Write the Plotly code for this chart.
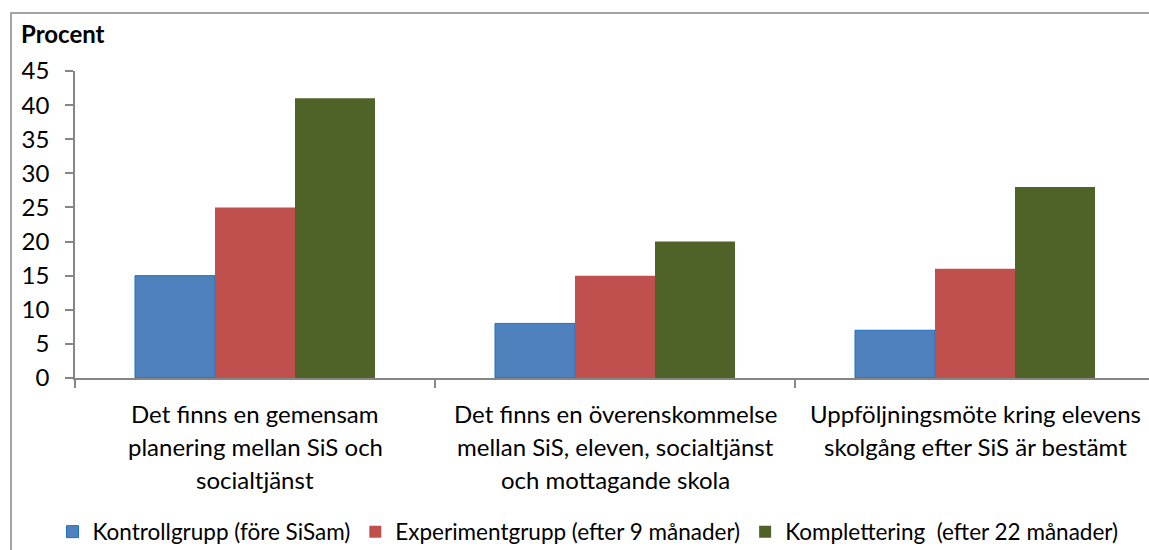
import plotly.graph_objects as go

categories = [0, 1, 2]
category_lines = [
    ["Det finns en gemensam", "planering mellan SiS och", "socialtjänst"],
    ["Det finns en överenskommelse", "mellan SiS, eleven, socialtjänst", "och mottagande skola"],
    ["Uppföljningsmöte kring elevens", "skolgång efter SiS är bestämt"],
]
series_names = [
    "Kontrollgrupp (före SiSam)",
    "Experimentgrupp (efter 9 månader)",
    "Komplettering  (efter 22 månader)",
]
kontroll = [15, 8, 7]
experiment = [25, 15, 16]
komplettering = [41, 20, 28]
y_ticks = [0, 5, 10, 15, 20, 25, 30, 35, 40, 45]

FONT = "Lato"
GRAY = "#868686"

W, H = 1149, 550
plot_left, plot_right = 75, 1149
plot_top, plot_bottom = 71, 378
cat_px = 360.0
x_max = -0.5 + (plot_right - plot_left) / cat_px

fig = go.Figure()
fig.add_trace(go.Bar(x=categories, y=kontroll, name=series_names[0],
                     marker=dict(color="#4F81BD", line=dict(color="#1F6FC0", width=1))))
fig.add_trace(go.Bar(x=categories, y=experiment, name=series_names[1],
                     marker=dict(color="#C0504D", line=dict(width=0))))
fig.add_trace(go.Bar(x=categories, y=komplettering, name=series_names[2],
                     marker=dict(color="#4F6228", line=dict(width=0))))

annotations = []
for ci, lines in enumerate(category_lines):
    for li, txt in enumerate(lines):
        annotations.append(dict(
            x=categories[ci], y=0, xref="x", yref="y", text=txt, showarrow=False,
            xanchor="center", yanchor="middle", yshift=-(35 + 33 * li),
            font=dict(family=FONT, size=24, color="#000000"),
        ))

pw = plot_right - plot_left
ph = plot_bottom - plot_top
# outer chart-area frame (extends beyond right/bottom edge)
shapes = [dict(type="rect", xref="paper", yref="paper",
               x0=(11 - plot_left) / pw, x1=(1165 - plot_left) / pw,
               y0=(plot_bottom - 565) / ph, y1=(plot_bottom - 13) / ph,
               line=dict(color=GRAY, width=1.5), fillcolor="rgba(0,0,0,0)", layer="below")]

fig.update_layout(
    width=W, height=H,
    margin=dict(l=plot_left, r=W - plot_right, t=plot_top, b=H - plot_bottom, pad=0),
    paper_bgcolor="white", plot_bgcolor="white",
    barmode="group", bargap=1/3, bargroupgap=0,
    font=dict(family=FONT, color="#000000"),
    title=dict(text="<b>Procent</b>", x=21 / W, xanchor="left", xref="container",
               y=1 - 35 / H, yanchor="middle", yref="container",
               font=dict(family=FONT, size=24, color="#000000")),
    xaxis=dict(range=[-0.5, x_max], tickvals=categories, ticktext=["", "", ""],
               ticks="", showgrid=False, zeroline=False,
               showline=True, linecolor=GRAY, linewidth=1.5,
               minor=dict(ticks="outside", tick0=-0.5, dtick=1, ticklen=8,
                          tickcolor=GRAY, tickwidth=1.5, showgrid=False)),
    yaxis=dict(range=[0, 45], tickvals=y_ticks, showgrid=False, zeroline=False,
               showline=True, linecolor=GRAY, linewidth=1.5,
               ticks="outside", ticklen=8, tickcolor=GRAY, tickwidth=1.5,
               ticklabelstandoff=11,
               tickfont=dict(family=FONT, size=24, color="#000000")),
    legend=dict(orientation="h", x=588 / W, xanchor="center", xref="container",
                y=1 - 532 / H, yanchor="middle", yref="container",
                font=dict(family=FONT, size=22.5, color="#000000"),
                itemwidth=30, traceorder="normal", bgcolor="rgba(0,0,0,0)"),
    annotations=annotations,
    shapes=shapes,
    showlegend=True,
)

fig.write_html("out.html", config={"displayModeBar": False},
               post_script="document.body.style.margin='0';")
